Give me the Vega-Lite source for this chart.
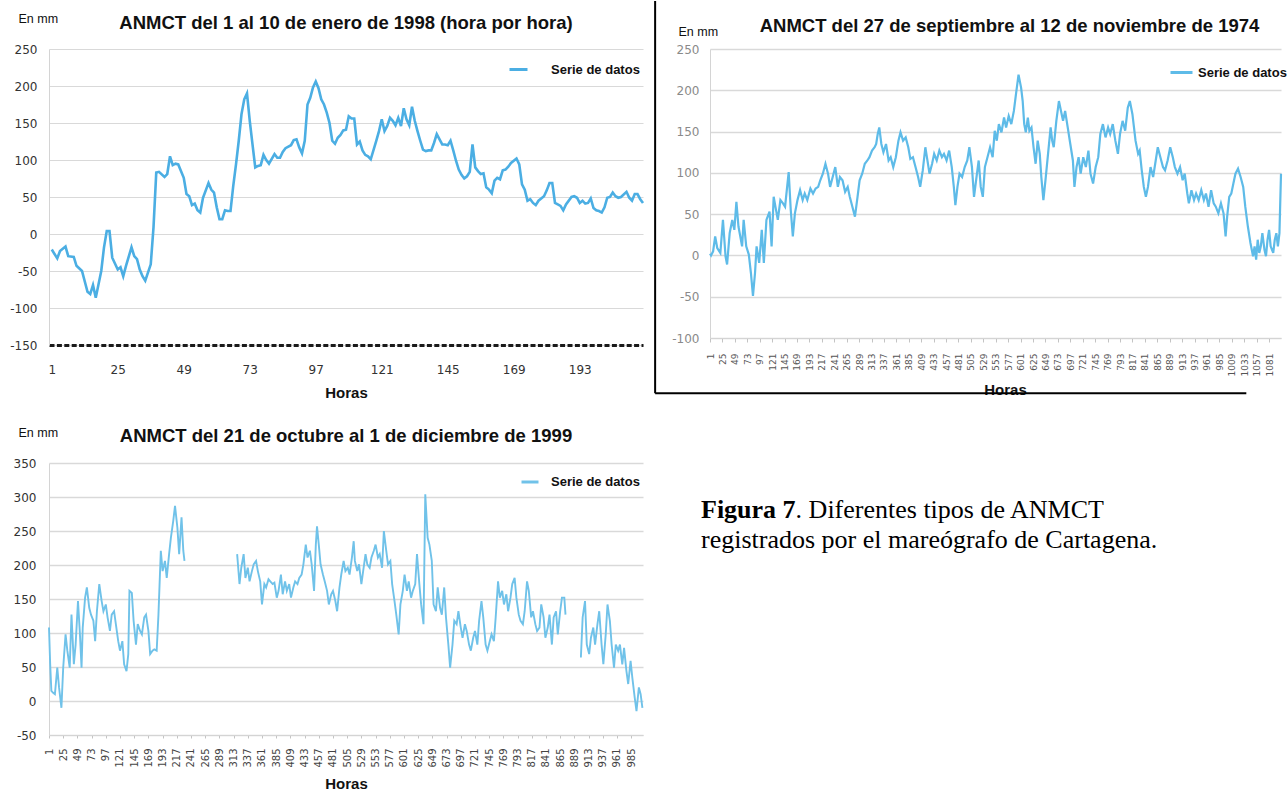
{
  "$schema": "https://vega.github.io/schema/vega-lite/v6.json",
  "background": "#ffffff",
  "padding": {"left": 9, "top": 0, "right": 0, "bottom": 0},
  "bounds": "flush",
  "columns": 2,
  "spacing": {"row": 118, "column": 67},
  "datasets": {
    "enero1998": [
      {"hora":1,"mm":-21},{"hora":3,"mm":-33},{"hora":4,"mm":-23},{"hora":6,"mm":-17},{"hora":7,"mm":-30},{"hora":9,"mm":-31},{"hora":10,"mm":-43},{"hora":12,"mm":-50},{"hora":14,"mm":-78},{"hora":15,"mm":-81},{"hora":16,"mm":-69},{"hora":17,"mm":-86},{"hora":19,"mm":-50},{"hora":20,"mm":-18},{"hora":21,"mm":4},{"hora":22,"mm":4},{"hora":23,"mm":-32},{"hora":25,"mm":-48},{"hora":26,"mm":-45},{"hora":27,"mm":-57},{"hora":28,"mm":-43},{"hora":30,"mm":-18},{"hora":31,"mm":-30},{"hora":32,"mm":-34},{"hora":33,"mm":-48},{"hora":34,"mm":-57},{"hora":35,"mm":-63},{"hora":37,"mm":-41},{"hora":38,"mm":9},{"hora":39,"mm":83},{"hora":40,"mm":84},{"hora":42,"mm":77},{"hora":43,"mm":81},{"hora":44,"mm":105},{"hora":45,"mm":93},{"hora":46,"mm":95},{"hora":47,"mm":94},{"hora":49,"mm":76},{"hora":50,"mm":54},{"hora":51,"mm":51},{"hora":52,"mm":39},{"hora":53,"mm":41},{"hora":54,"mm":32},{"hora":55,"mm":29},{"hora":56,"mm":49},{"hora":58,"mm":69},{"hora":59,"mm":60},{"hora":60,"mm":56},{"hora":61,"mm":36},{"hora":62,"mm":20},{"hora":63,"mm":20},{"hora":64,"mm":32},{"hora":65,"mm":31},{"hora":66,"mm":31},{"hora":67,"mm":65},{"hora":68,"mm":94},{"hora":69,"mm":126},{"hora":70,"mm":162},{"hora":71,"mm":182},{"hora":72,"mm":190},{"hora":73,"mm":153},{"hora":74,"mm":121},{"hora":75,"mm":90},{"hora":76,"mm":92},{"hora":77,"mm":93},{"hora":78,"mm":107},{"hora":79,"mm":100},{"hora":80,"mm":95},{"hora":82,"mm":108},{"hora":83,"mm":103},{"hora":84,"mm":103},{"hora":85,"mm":111},{"hora":86,"mm":116},{"hora":88,"mm":120},{"hora":89,"mm":127},{"hora":90,"mm":128},{"hora":91,"mm":117},{"hora":92,"mm":109},{"hora":93,"mm":126},{"hora":94,"mm":175},{"hora":95,"mm":184},{"hora":96,"mm":198},{"hora":97,"mm":206},{"hora":98,"mm":197},{"hora":99,"mm":182},{"hora":100,"mm":175},{"hora":101,"mm":164},{"hora":102,"mm":150},{"hora":103,"mm":126},{"hora":104,"mm":122},{"hora":105,"mm":130},{"hora":106,"mm":134},{"hora":107,"mm":140},{"hora":108,"mm":141},{"hora":109,"mm":159},{"hora":110,"mm":156},{"hora":111,"mm":156},{"hora":112,"mm":121},{"hora":113,"mm":125},{"hora":114,"mm":113},{"hora":115,"mm":107},{"hora":116,"mm":105},{"hora":117,"mm":101},{"hora":119,"mm":126},{"hora":120,"mm":139},{"hora":121,"mm":155},{"hora":122,"mm":139},{"hora":123,"mm":146},{"hora":124,"mm":157},{"hora":125,"mm":153},{"hora":126,"mm":147},{"hora":127,"mm":157},{"hora":128,"mm":146},{"hora":129,"mm":170},{"hora":130,"mm":155},{"hora":131,"mm":147},{"hora":132,"mm":172},{"hora":133,"mm":153},{"hora":134,"mm":139},{"hora":135,"mm":126},{"hora":136,"mm":114},{"hora":137,"mm":112},{"hora":138,"mm":113},{"hora":139,"mm":113},{"hora":140,"mm":123},{"hora":141,"mm":135},{"hora":143,"mm":121},{"hora":144,"mm":121},{"hora":145,"mm":120},{"hora":146,"mm":126},{"hora":147,"mm":113},{"hora":148,"mm":99},{"hora":149,"mm":87},{"hora":150,"mm":80},{"hora":151,"mm":75},{"hora":152,"mm":78},{"hora":153,"mm":84},{"hora":154,"mm":121},{"hora":155,"mm":90},{"hora":156,"mm":85},{"hora":157,"mm":81},{"hora":158,"mm":82},{"hora":159,"mm":63},{"hora":160,"mm":60},{"hora":161,"mm":55},{"hora":162,"mm":72},{"hora":163,"mm":76},{"hora":164,"mm":74},{"hora":165,"mm":86},{"hora":166,"mm":87},{"hora":167,"mm":91},{"hora":168,"mm":96},{"hora":170,"mm":102},{"hora":171,"mm":94},{"hora":172,"mm":67},{"hora":173,"mm":60},{"hora":174,"mm":45},{"hora":175,"mm":47},{"hora":176,"mm":42},{"hora":177,"mm":39},{"hora":178,"mm":45},{"hora":180,"mm":51},{"hora":181,"mm":59},{"hora":182,"mm":69},{"hora":183,"mm":69},{"hora":184,"mm":42},{"hora":185,"mm":40},{"hora":186,"mm":38},{"hora":187,"mm":32},{"hora":188,"mm":40},{"hora":190,"mm":50},{"hora":191,"mm":51},{"hora":192,"mm":49},{"hora":193,"mm":42},{"hora":194,"mm":45},{"hora":195,"mm":41},{"hora":196,"mm":42},{"hora":197,"mm":48},{"hora":198,"mm":35},{"hora":199,"mm":32},{"hora":200,"mm":31},{"hora":201,"mm":29},{"hora":202,"mm":36},{"hora":203,"mm":49},{"hora":204,"mm":50},{"hora":205,"mm":56},{"hora":206,"mm":51},{"hora":207,"mm":49},{"hora":208,"mm":50},{"hora":210,"mm":57},{"hora":211,"mm":49},{"hora":212,"mm":45},{"hora":213,"mm":54},{"hora":214,"mm":54},{"hora":215,"mm":47},{"hora":216,"mm":42}
    ],
    "sep1974": [
      {"hora":1,"mm":2},{"hora":3,"mm":0},{"hora":7,"mm":5},{"hora":11,"mm":23},{"hora":15,"mm":9},{"hora":21,"mm":3},{"hora":26,"mm":43},{"hora":31,"mm":-1},{"hora":34,"mm":-11},{"hora":39,"mm":27},{"hora":44,"mm":43},{"hora":48,"mm":31},{"hora":52,"mm":65},{"hora":56,"mm":35},{"hora":63,"mm":11},{"hora":66,"mm":43},{"hora":71,"mm":11},{"hora":76,"mm":1},{"hora":80,"mm":-21},{"hora":84,"mm":-49},{"hora":88,"mm":-21},{"hora":91,"mm":11},{"hora":96,"mm":-9},{"hora":101,"mm":31},{"hora":105,"mm":-9},{"hora":110,"mm":43},{"hora":116,"mm":53},{"hora":120,"mm":11},{"hora":124,"mm":71},{"hora":128,"mm":57},{"hora":132,"mm":43},{"hora":137,"mm":67},{"hora":142,"mm":63},{"hora":146,"mm":59},{"hora":153,"mm":101},{"hora":157,"mm":55},{"hora":161,"mm":23},{"hora":165,"mm":51},{"hora":170,"mm":67},{"hora":175,"mm":79},{"hora":180,"mm":67},{"hora":184,"mm":75},{"hora":189,"mm":67},{"hora":195,"mm":81},{"hora":200,"mm":75},{"hora":205,"mm":81},{"hora":210,"mm":83},{"hora":214,"mm":91},{"hora":219,"mm":99},{"hora":224,"mm":111},{"hora":229,"mm":99},{"hora":233,"mm":83},{"hora":238,"mm":95},{"hora":243,"mm":107},{"hora":248,"mm":83},{"hora":252,"mm":95},{"hora":257,"mm":91},{"hora":262,"mm":77},{"hora":267,"mm":83},{"hora":271,"mm":71},{"hora":276,"mm":59},{"hora":281,"mm":47},{"hora":286,"mm":71},{"hora":290,"mm":91},{"hora":295,"mm":99},{"hora":300,"mm":111},{"hora":305,"mm":115},{"hora":309,"mm":119},{"hora":314,"mm":127},{"hora":319,"mm":131},{"hora":322,"mm":135},{"hora":325,"mm":147},{"hora":328,"mm":155},{"hora":332,"mm":135},{"hora":336,"mm":125},{"hora":341,"mm":135},{"hora":346,"mm":115},{"hora":350,"mm":119},{"hora":355,"mm":107},{"hora":360,"mm":119},{"hora":365,"mm":139},{"hora":369,"mm":149},{"hora":374,"mm":139},{"hora":379,"mm":143},{"hora":384,"mm":131},{"hora":388,"mm":117},{"hora":393,"mm":119},{"hora":398,"mm":107},{"hora":403,"mm":95},{"hora":407,"mm":83},{"hora":412,"mm":103},{"hora":417,"mm":131},{"hora":420,"mm":119},{"hora":425,"mm":99},{"hora":430,"mm":111},{"hora":434,"mm":123},{"hora":439,"mm":115},{"hora":444,"mm":127},{"hora":449,"mm":119},{"hora":453,"mm":123},{"hora":458,"mm":115},{"hora":463,"mm":127},{"hora":468,"mm":107},{"hora":472,"mm":83},{"hora":475,"mm":61},{"hora":479,"mm":83},{"hora":483,"mm":99},{"hora":488,"mm":95},{"hora":493,"mm":107},{"hora":498,"mm":115},{"hora":502,"mm":131},{"hora":507,"mm":107},{"hora":511,"mm":71},{"hora":515,"mm":91},{"hora":520,"mm":115},{"hora":524,"mm":83},{"hora":528,"mm":71},{"hora":532,"mm":107},{"hora":537,"mm":119},{"hora":542,"mm":131},{"hora":547,"mm":119},{"hora":551,"mm":151},{"hora":555,"mm":139},{"hora":559,"mm":159},{"hora":564,"mm":149},{"hora":569,"mm":167},{"hora":573,"mm":155},{"hora":578,"mm":169},{"hora":583,"mm":159},{"hora":588,"mm":175},{"hora":592,"mm":195},{"hora":597,"mm":219},{"hora":602,"mm":203},{"hora":605,"mm":187},{"hora":608,"mm":159},{"hora":611,"mm":149},{"hora":615,"mm":167},{"hora":618,"mm":151},{"hora":622,"mm":155},{"hora":626,"mm":131},{"hora":630,"mm":111},{"hora":634,"mm":139},{"hora":638,"mm":123},{"hora":641,"mm":95},{"hora":645,"mm":67},{"hora":649,"mm":91},{"hora":654,"mm":123},{"hora":659,"mm":155},{"hora":662,"mm":139},{"hora":665,"mm":131},{"hora":670,"mm":163},{"hora":675,"mm":187},{"hora":679,"mm":175},{"hora":683,"mm":163},{"hora":687,"mm":175},{"hora":692,"mm":155},{"hora":697,"mm":135},{"hora":702,"mm":115},{"hora":705,"mm":83},{"hora":709,"mm":107},{"hora":713,"mm":119},{"hora":717,"mm":99},{"hora":722,"mm":119},{"hora":727,"mm":107},{"hora":732,"mm":127},{"hora":736,"mm":99},{"hora":741,"mm":87},{"hora":746,"mm":107},{"hora":751,"mm":119},{"hora":755,"mm":147},{"hora":760,"mm":159},{"hora":765,"mm":143},{"hora":770,"mm":155},{"hora":774,"mm":147},{"hora":779,"mm":159},{"hora":784,"mm":139},{"hora":789,"mm":123},{"hora":793,"mm":147},{"hora":798,"mm":163},{"hora":803,"mm":151},{"hora":808,"mm":179},{"hora":812,"mm":187},{"hora":817,"mm":171},{"hora":820,"mm":155},{"hora":823,"mm":139},{"hora":828,"mm":123},{"hora":831,"mm":127},{"hora":835,"mm":103},{"hora":839,"mm":83},{"hora":843,"mm":71},{"hora":847,"mm":83},{"hora":852,"mm":107},{"hora":857,"mm":95},{"hora":861,"mm":111},{"hora":866,"mm":131},{"hora":871,"mm":119},{"hora":876,"mm":107},{"hora":880,"mm":103},{"hora":885,"mm":115},{"hora":890,"mm":131},{"hora":895,"mm":119},{"hora":899,"mm":107},{"hora":904,"mm":99},{"hora":909,"mm":107},{"hora":914,"mm":91},{"hora":918,"mm":99},{"hora":923,"mm":75},{"hora":926,"mm":63},{"hora":931,"mm":79},{"hora":936,"mm":67},{"hora":940,"mm":75},{"hora":945,"mm":67},{"hora":950,"mm":79},{"hora":955,"mm":67},{"hora":959,"mm":75},{"hora":964,"mm":59},{"hora":969,"mm":79},{"hora":974,"mm":63},{"hora":978,"mm":59},{"hora":983,"mm":51},{"hora":988,"mm":63},{"hora":993,"mm":51},{"hora":997,"mm":23},{"hora":1000,"mm":47},{"hora":1004,"mm":71},{"hora":1008,"mm":75},{"hora":1012,"mm":87},{"hora":1016,"mm":99},{"hora":1021,"mm":105},{"hora":1026,"mm":95},{"hora":1031,"mm":83},{"hora":1035,"mm":59},{"hora":1040,"mm":35},{"hora":1045,"mm":15},{"hora":1050,"mm":-1},{"hora":1053,"mm":11},{"hora":1056,"mm":-5},{"hora":1059,"mm":19},{"hora":1062,"mm":3},{"hora":1065,"mm":11},{"hora":1068,"mm":27},{"hora":1072,"mm":7},{"hora":1075,"mm":-1},{"hora":1078,"mm":19},{"hora":1081,"mm":31},{"hora":1084,"mm":11},{"hora":1089,"mm":3},{"hora":1092,"mm":19},{"hora":1095,"mm":27},{"hora":1098,"mm":11},{"hora":1101,"mm":27},{"hora":1104,"mm":99}
    ],
    "oct1999": [
      {"hora":1,"mm":108,"tramo":1},{"hora":3,"mm":54,"tramo":1},{"hora":5,"mm":15,"tramo":1},{"hora":8,"mm":12,"tramo":1},{"hora":11,"mm":10,"tramo":1},{"hora":15,"mm":49,"tramo":1},{"hora":18,"mm":20,"tramo":1},{"hora":22,"mm":-10,"tramo":1},{"hora":25,"mm":49,"tramo":1},{"hora":29,"mm":98,"tramo":1},{"hora":32,"mm":74,"tramo":1},{"hora":36,"mm":49,"tramo":1},{"hora":39,"mm":127,"tramo":1},{"hora":43,"mm":54,"tramo":1},{"hora":46,"mm":83,"tramo":1},{"hora":50,"mm":147,"tramo":1},{"hora":53,"mm":103,"tramo":1},{"hora":56,"mm":49,"tramo":1},{"hora":58,"mm":108,"tramo":1},{"hora":62,"mm":152,"tramo":1},{"hora":65,"mm":167,"tramo":1},{"hora":69,"mm":137,"tramo":1},{"hora":72,"mm":127,"tramo":1},{"hora":76,"mm":118,"tramo":1},{"hora":79,"mm":88,"tramo":1},{"hora":82,"mm":132,"tramo":1},{"hora":86,"mm":172,"tramo":1},{"hora":90,"mm":147,"tramo":1},{"hora":93,"mm":132,"tramo":1},{"hora":97,"mm":142,"tramo":1},{"hora":100,"mm":123,"tramo":1},{"hora":104,"mm":103,"tramo":1},{"hora":107,"mm":127,"tramo":1},{"hora":111,"mm":132,"tramo":1},{"hora":114,"mm":113,"tramo":1},{"hora":118,"mm":88,"tramo":1},{"hora":121,"mm":74,"tramo":1},{"hora":125,"mm":88,"tramo":1},{"hora":128,"mm":54,"tramo":1},{"hora":132,"mm":44,"tramo":1},{"hora":135,"mm":69,"tramo":1},{"hora":137,"mm":162,"tramo":1},{"hora":141,"mm":159,"tramo":1},{"hora":144,"mm":118,"tramo":1},{"hora":148,"mm":83,"tramo":1},{"hora":151,"mm":113,"tramo":1},{"hora":155,"mm":103,"tramo":1},{"hora":158,"mm":98,"tramo":1},{"hora":162,"mm":123,"tramo":1},{"hora":165,"mm":127,"tramo":1},{"hora":169,"mm":103,"tramo":1},{"hora":172,"mm":69,"tramo":1},{"hora":176,"mm":74,"tramo":1},{"hora":179,"mm":76,"tramo":1},{"hora":183,"mm":74,"tramo":1},{"hora":186,"mm":127,"tramo":1},{"hora":190,"mm":221,"tramo":1},{"hora":193,"mm":191,"tramo":1},{"hora":197,"mm":206,"tramo":1},{"hora":200,"mm":181,"tramo":1},{"hora":204,"mm":216,"tramo":1},{"hora":207,"mm":240,"tramo":1},{"hora":211,"mm":265,"tramo":1},{"hora":214,"mm":287,"tramo":1},{"hora":218,"mm":255,"tramo":1},{"hora":221,"mm":216,"tramo":1},{"hora":225,"mm":270,"tramo":1},{"hora":228,"mm":221,"tramo":1},{"hora":230,"mm":206,"tramo":1},
      {"hora":319,"mm":216,"tramo":2},{"hora":323,"mm":172,"tramo":2},{"hora":326,"mm":196,"tramo":2},{"hora":330,"mm":216,"tramo":2},{"hora":333,"mm":181,"tramo":2},{"hora":337,"mm":196,"tramo":2},{"hora":340,"mm":176,"tramo":2},{"hora":344,"mm":191,"tramo":2},{"hora":347,"mm":201,"tramo":2},{"hora":351,"mm":206,"tramo":2},{"hora":354,"mm":191,"tramo":2},{"hora":358,"mm":176,"tramo":2},{"hora":361,"mm":142,"tramo":2},{"hora":365,"mm":172,"tramo":2},{"hora":368,"mm":167,"tramo":2},{"hora":372,"mm":179,"tramo":2},{"hora":375,"mm":176,"tramo":2},{"hora":379,"mm":172,"tramo":2},{"hora":382,"mm":174,"tramo":2},{"hora":386,"mm":152,"tramo":2},{"hora":389,"mm":162,"tramo":2},{"hora":393,"mm":186,"tramo":2},{"hora":396,"mm":157,"tramo":2},{"hora":400,"mm":176,"tramo":2},{"hora":403,"mm":162,"tramo":2},{"hora":407,"mm":172,"tramo":2},{"hora":410,"mm":152,"tramo":2},{"hora":414,"mm":167,"tramo":2},{"hora":417,"mm":176,"tramo":2},{"hora":421,"mm":172,"tramo":2},{"hora":424,"mm":181,"tramo":2},{"hora":428,"mm":186,"tramo":2},{"hora":431,"mm":201,"tramo":2},{"hora":435,"mm":230,"tramo":2},{"hora":438,"mm":211,"tramo":2},{"hora":442,"mm":221,"tramo":2},{"hora":445,"mm":201,"tramo":2},{"hora":449,"mm":162,"tramo":2},{"hora":452,"mm":230,"tramo":2},{"hora":454,"mm":257,"tramo":2},{"hora":457,"mm":230,"tramo":2},{"hora":460,"mm":201,"tramo":2},{"hora":464,"mm":186,"tramo":2},{"hora":467,"mm":176,"tramo":2},{"hora":471,"mm":162,"tramo":2},{"hora":474,"mm":142,"tramo":2},{"hora":478,"mm":157,"tramo":2},{"hora":481,"mm":162,"tramo":2},{"hora":485,"mm":147,"tramo":2},{"hora":488,"mm":132,"tramo":2},{"hora":492,"mm":167,"tramo":2},{"hora":495,"mm":186,"tramo":2},{"hora":499,"mm":206,"tramo":2},{"hora":502,"mm":191,"tramo":2},{"hora":506,"mm":196,"tramo":2},{"hora":509,"mm":186,"tramo":2},{"hora":513,"mm":211,"tramo":2},{"hora":516,"mm":235,"tramo":2},{"hora":518,"mm":206,"tramo":2},{"hora":522,"mm":191,"tramo":2},{"hora":525,"mm":201,"tramo":2},{"hora":529,"mm":172,"tramo":2},{"hora":532,"mm":191,"tramo":2},{"hora":536,"mm":216,"tramo":2},{"hora":539,"mm":201,"tramo":2},{"hora":543,"mm":196,"tramo":2},{"hora":546,"mm":211,"tramo":2},{"hora":550,"mm":221,"tramo":2},{"hora":553,"mm":230,"tramo":2},{"hora":557,"mm":211,"tramo":2},{"hora":560,"mm":216,"tramo":2},{"hora":564,"mm":196,"tramo":2},{"hora":567,"mm":250,"tramo":2},{"hora":571,"mm":221,"tramo":2},{"hora":574,"mm":201,"tramo":2},{"hora":578,"mm":206,"tramo":2},{"hora":581,"mm":172,"tramo":2},{"hora":585,"mm":147,"tramo":2},{"hora":588,"mm":127,"tramo":2},{"hora":592,"mm":98,"tramo":2},{"hora":595,"mm":142,"tramo":2},{"hora":599,"mm":162,"tramo":2},{"hora":602,"mm":186,"tramo":2},{"hora":606,"mm":162,"tramo":2},{"hora":609,"mm":176,"tramo":2},{"hora":613,"mm":152,"tramo":2},{"hora":616,"mm":162,"tramo":2},{"hora":620,"mm":172,"tramo":2},{"hora":623,"mm":216,"tramo":2},{"hora":627,"mm":172,"tramo":2},{"hora":630,"mm":142,"tramo":2},{"hora":634,"mm":113,"tramo":2},{"hora":637,"mm":304,"tramo":2},{"hora":641,"mm":240,"tramo":2},{"hora":644,"mm":230,"tramo":2},{"hora":648,"mm":206,"tramo":2},{"hora":651,"mm":142,"tramo":2},{"hora":655,"mm":132,"tramo":2},{"hora":658,"mm":167,"tramo":2},{"hora":662,"mm":137,"tramo":2},{"hora":665,"mm":127,"tramo":2},{"hora":669,"mm":167,"tramo":2},{"hora":672,"mm":123,"tramo":2},{"hora":676,"mm":83,"tramo":2},{"hora":679,"mm":49,"tramo":2},{"hora":683,"mm":83,"tramo":2},{"hora":686,"mm":118,"tramo":2},{"hora":690,"mm":113,"tramo":2},{"hora":693,"mm":132,"tramo":2},{"hora":697,"mm":108,"tramo":2},{"hora":700,"mm":93,"tramo":2},{"hora":704,"mm":113,"tramo":2},{"hora":707,"mm":103,"tramo":2},{"hora":711,"mm":83,"tramo":2},{"hora":714,"mm":74,"tramo":2},{"hora":718,"mm":93,"tramo":2},{"hora":721,"mm":103,"tramo":2},{"hora":725,"mm":83,"tramo":2},{"hora":728,"mm":118,"tramo":2},{"hora":732,"mm":147,"tramo":2},{"hora":735,"mm":123,"tramo":2},{"hora":739,"mm":83,"tramo":2},{"hora":742,"mm":74,"tramo":2},{"hora":746,"mm":88,"tramo":2},{"hora":749,"mm":98,"tramo":2},{"hora":753,"mm":88,"tramo":2},{"hora":756,"mm":123,"tramo":2},{"hora":760,"mm":176,"tramo":2},{"hora":763,"mm":152,"tramo":2},{"hora":767,"mm":162,"tramo":2},{"hora":770,"mm":142,"tramo":2},{"hora":774,"mm":157,"tramo":2},{"hora":777,"mm":132,"tramo":2},{"hora":781,"mm":152,"tramo":2},{"hora":784,"mm":172,"tramo":2},{"hora":788,"mm":181,"tramo":2},{"hora":791,"mm":152,"tramo":2},{"hora":795,"mm":127,"tramo":2},{"hora":798,"mm":118,"tramo":2},{"hora":802,"mm":113,"tramo":2},{"hora":805,"mm":132,"tramo":2},{"hora":809,"mm":176,"tramo":2},{"hora":812,"mm":162,"tramo":2},{"hora":816,"mm":123,"tramo":2},{"hora":819,"mm":132,"tramo":2},{"hora":823,"mm":113,"tramo":2},{"hora":826,"mm":103,"tramo":2},{"hora":830,"mm":108,"tramo":2},{"hora":833,"mm":142,"tramo":2},{"hora":837,"mm":123,"tramo":2},{"hora":840,"mm":93,"tramo":2},{"hora":844,"mm":108,"tramo":2},{"hora":847,"mm":127,"tramo":2},{"hora":851,"mm":83,"tramo":2},{"hora":854,"mm":123,"tramo":2},{"hora":858,"mm":132,"tramo":2},{"hora":861,"mm":98,"tramo":2},{"hora":865,"mm":132,"tramo":2},{"hora":868,"mm":152,"tramo":2},{"hora":872,"mm":152,"tramo":2},{"hora":874,"mm":127,"tramo":2},
      {"hora":900,"mm":64,"tramo":3},{"hora":903,"mm":123,"tramo":3},{"hora":907,"mm":147,"tramo":3},{"hora":910,"mm":83,"tramo":3},{"hora":914,"mm":69,"tramo":3},{"hora":917,"mm":93,"tramo":3},{"hora":921,"mm":108,"tramo":3},{"hora":924,"mm":83,"tramo":3},{"hora":928,"mm":113,"tramo":3},{"hora":931,"mm":132,"tramo":3},{"hora":935,"mm":83,"tramo":3},{"hora":938,"mm":54,"tramo":3},{"hora":942,"mm":98,"tramo":3},{"hora":945,"mm":142,"tramo":3},{"hora":949,"mm":118,"tramo":3},{"hora":952,"mm":83,"tramo":3},{"hora":956,"mm":49,"tramo":3},{"hora":959,"mm":83,"tramo":3},{"hora":963,"mm":74,"tramo":3},{"hora":966,"mm":83,"tramo":3},{"hora":970,"mm":54,"tramo":3},{"hora":973,"mm":78,"tramo":3},{"hora":977,"mm":44,"tramo":3},{"hora":980,"mm":25,"tramo":3},{"hora":984,"mm":59,"tramo":3},{"hora":987,"mm":34,"tramo":3},{"hora":991,"mm":5,"tramo":3},{"hora":994,"mm":-15,"tramo":3},{"hora":998,"mm":20,"tramo":3},{"hora":1001,"mm":10,"tramo":3},{"hora":1004,"mm":-10,"tramo":3}
    ],
    "pie": [
      {"parte": "figura", "texto": "Figura 7"},
      {"parte": "resto", "texto": ". Diferentes tipos de ANMCT"},
      {"parte": "linea2", "texto": "registrados por el mareógrafo de Cartagena."}
    ]
  },
  "concat": [
    {
      "width": 594,
      "height": 296,
      "title": {"text": "ANMCT del 1 al 10 de enero de 1998 (hora por hora)", "frame": "group", "anchor": "middle", "baseline": "alphabetic", "offset": -35},
      "data": {"name": "enero1998"},
      "mark": {"type": "line", "strokeWidth": 2.6, "interpolate": "linear"},
      "encoding": {
        "x": {
          "field": "hora", "type": "quantitative",
          "scale": {"domain": [0, 216], "nice": false, "zero": false},
          "axis": {
            "values": [1, 25, 49, 73, 97, 121, 145, 169, 193],
            "format": "d",
            "title": "Horas", "grid": false, "ticks": false,
            "domainColor": "#1a1a1a", "domainWidth": 3, "domainDash": [5, 2.4],
            "labelFontSize": 12, "labelColor": "#333333", "labelPadding": 19,
            "titleFontSize": 15, "titleFontWeight": "bold", "titlePadding": 10
          }
        },
        "y": {
          "field": "mm", "type": "quantitative",
          "scale": {"domain": [-150, 250], "nice": false, "zero": false},
          "axis": {
            "values": [-150, -100, -50, 0, 50, 100, 150, 200, 250],
            "labelExpr": "replace(datum.label, '−', '-')",
            "grid": true, "ticks": false, "labelPadding": 12,
            "labelFontSize": 12, "labelColor": "#333333",
            "title": "En mm", "titleAngle": 0, "titleAlign": "left", "titleBaseline": "middle",
            "titleX": -31, "titleY": -31, "titleFontSize": 12.5, "titleFontWeight": "normal"
          }
        },
        "color": {
          "datum": "Serie de datos", "type": "nominal",
          "scale": {"range": ["#4baee3"]},
          "legend": {"title": null, "orient": "none", "legendX": 459, "legendY": 10, "symbolSize": 324, "labelOffset": 22}
        }
      }
    },
    {
      "width": 571,
      "height": 289,
      "title": {"text": "ANMCT del 27 de septiembre al 12 de noviembre de 1974", "frame": "group", "anchor": "middle", "baseline": "alphabetic", "offset": -50, "dx": 14},
      "layer": [
        {
          "data": {"name": "sep1974"},
          "mark": {"type": "line", "strokeWidth": 2.2, "interpolate": "linear"},
          "encoding": {
            "x": {
              "field": "hora", "type": "quantitative",
              "scale": {"domain": [1, 1104], "nice": false, "zero": false},
              "axis": {
                "values": [1, 25, 49, 73, 97, 121, 145, 169, 193, 217, 241, 265, 289, 313, 337, 361, 385, 409, 433, 457, 481, 505, 529, 553, 577, 601, 625, 649, 673, 697, 721, 745, 769, 793, 817, 841, 865, 889, 913, 937, 961, 985, 1009, 1033, 1057, 1081],
                "format": "d", "labelOverlap": false,
                "title": "Horas", "grid": false, "ticks": true, "tickSize": 4,
                "labelAngle": -90, "labelFontSize": 9, "labelColor": "#555555", "labelPadding": 11,
                "titleFontSize": 15, "titleFontWeight": "bold", "titlePadding": 7, "titleX": 295
              }
            },
            "y": {
              "field": "mm", "type": "quantitative",
              "scale": {"domain": [-100, 250], "nice": false, "zero": false},
              "axis": {
                "values": [-100, -50, 0, 50, 100, 150, 200, 250],
                "labelExpr": "replace(datum.label, '−', '-')",
                "grid": true, "gridWidth": 1.6, "ticks": false, "labelPadding": 11,
                "labelFontSize": 12, "labelColor": "#8a8a8a",
                "title": "En mm", "titleAngle": 0, "titleAlign": "left", "titleBaseline": "middle",
                "titleX": -32, "titleY": -18, "titleFontSize": 12.5, "titleFontWeight": "normal"
              }
            },
            "color": {
              "datum": "Serie de datos", "type": "nominal",
              "scale": {"range": ["#5ebbe8"]},
              "legend": {"title": null, "orient": "none", "legendX": 459, "legendY": 11, "symbolSize": 484, "labelOffset": 4}
            }
          }
        },
        {
          "data": {"values": [{"marco": "izquierdo"}]},
          "mark": {"type": "rule", "color": "#000000", "strokeWidth": 2},
          "encoding": {
            "x": {
              "datum": -105, "type": "quantitative",
              "axis": {
                "values": [1, 25, 49, 73, 97, 121, 145, 169, 193, 217, 241, 265, 289, 313, 337, 361, 385, 409, 433, 457, 481, 505, 529, 553, 577, 601, 625, 649, 673, 697, 721, 745, 769, 793, 817, 841, 865, 889, 913, 937, 961, 985, 1009, 1033, 1057, 1081],
                "format": "d", "labelOverlap": false,
                "title": "Horas", "grid": false, "ticks": true, "tickSize": 4,
                "labelAngle": -90, "labelFontSize": 9, "labelColor": "#555555", "labelPadding": 11,
                "titleFontSize": 15, "titleFontWeight": "bold", "titlePadding": 7, "titleX": 295
              }
            },
            "y": {
              "datum": 308, "type": "quantitative",
              "axis": {
                "values": [-100, -50, 0, 50, 100, 150, 200, 250],
                "labelExpr": "replace(datum.label, '−', '-')",
                "grid": true, "gridWidth": 1.6, "ticks": false, "labelPadding": 11,
                "labelFontSize": 12, "labelColor": "#8a8a8a",
                "title": "En mm", "titleAngle": 0, "titleAlign": "left", "titleBaseline": "middle",
                "titleX": -32, "titleY": -18, "titleFontSize": 12.5, "titleFontWeight": "normal"
              }
            },
            "y2": {"datum": -167}
          }
        },
        {
          "data": {"values": [{"marco": "inferior"}]},
          "mark": {"type": "rule", "color": "#000000", "strokeWidth": 2},
          "encoding": {
            "x": {
              "datum": -105, "type": "quantitative",
              "axis": {
                "values": [1, 25, 49, 73, 97, 121, 145, 169, 193, 217, 241, 265, 289, 313, 337, 361, 385, 409, 433, 457, 481, 505, 529, 553, 577, 601, 625, 649, 673, 697, 721, 745, 769, 793, 817, 841, 865, 889, 913, 937, 961, 985, 1009, 1033, 1057, 1081],
                "format": "d", "labelOverlap": false,
                "title": "Horas", "grid": false, "ticks": true, "tickSize": 4,
                "labelAngle": -90, "labelFontSize": 9, "labelColor": "#555555", "labelPadding": 11,
                "titleFontSize": 15, "titleFontWeight": "bold", "titlePadding": 7, "titleX": 295
              }
            },
            "x2": {"datum": 1037},
            "y": {
              "datum": -167, "type": "quantitative",
              "axis": {
                "values": [-100, -50, 0, 50, 100, 150, 200, 250],
                "labelExpr": "replace(datum.label, '−', '-')",
                "grid": true, "gridWidth": 1.6, "ticks": false, "labelPadding": 11,
                "labelFontSize": 12, "labelColor": "#8a8a8a",
                "title": "En mm", "titleAngle": 0, "titleAlign": "left", "titleBaseline": "middle",
                "titleX": -32, "titleY": -18, "titleFontSize": 12.5, "titleFontWeight": "normal"
              }
            }
          }
        }
      ]
    },
    {
      "width": 594,
      "height": 272,
      "title": {"text": "ANMCT del 21 de octubre al 1 de diciembre de 1999", "frame": "group", "anchor": "middle", "baseline": "alphabetic", "offset": -34},
      "data": {"name": "oct1999"},
      "mark": {"type": "line", "strokeWidth": 1.9, "interpolate": "linear"},
      "encoding": {
        "x": {
          "field": "hora", "type": "quantitative",
          "scale": {"domain": [1, 1005], "nice": false, "zero": false},
          "axis": {
            "values": [1, 25, 49, 73, 97, 121, 145, 169, 193, 217, 241, 265, 289, 313, 337, 361, 385, 409, 433, 457, 481, 505, 529, 553, 577, 601, 625, 649, 673, 697, 721, 745, 769, 793, 817, 841, 865, 889, 913, 937, 961, 985],
            "format": "d", "labelOverlap": false,
            "title": "Horas", "grid": false, "ticks": true, "tickSize": 3,
            "labelAngle": -90, "labelFontSize": 10, "labelColor": "#444444", "labelPadding": 10,
            "titleFontSize": 15, "titleFontWeight": "bold", "titlePadding": 9
          }
        },
        "y": {
          "field": "mm", "type": "quantitative",
          "scale": {"domain": [-50, 350], "nice": false, "zero": false},
          "axis": {
            "values": [-50, 0, 50, 100, 150, 200, 250, 300, 350],
            "labelExpr": "replace(datum.label, '−', '-')",
            "grid": true, "gridWidth": 1.4, "ticks": false, "labelPadding": 13,
            "labelFontSize": 12, "labelColor": "#333333",
            "title": "En mm", "titleAngle": 0, "titleAlign": "left", "titleBaseline": "middle",
            "titleX": -31, "titleY": -31, "titleFontSize": 12.5, "titleFontWeight": "normal"
          }
        },
        "detail": {"field": "tramo", "type": "nominal"},
        "color": {
          "datum": "Serie de datos", "type": "nominal",
          "scale": {"range": ["#70c2e9"]},
          "legend": {"title": null, "orient": "none", "legendX": 471, "legendY": 9, "symbolSize": 289, "labelOffset": 11}
        }
      }
    },
    {
      "width": 2,
      "height": 110,
      "data": {"name": "pie"},
      "layer": [
        {
          "transform": [{"filter": "datum.parte === 'figura'"}],
          "mark": {"type": "text", "align": "left", "baseline": "alphabetic", "font": "Liberation Serif", "fontSize": 26, "fontWeight": "bold", "color": "#000000", "dx": -10},
          "encoding": {"text": {"field": "texto", "type": "nominal"}}
        },
        {
          "transform": [{"filter": "datum.parte === 'resto'"}],
          "mark": {"type": "text", "align": "left", "baseline": "alphabetic", "font": "Liberation Serif", "fontSize": 26, "fontWeight": "normal", "color": "#000000", "dx": 84.6},
          "encoding": {"text": {"field": "texto", "type": "nominal"}}
        },
        {
          "transform": [{"filter": "datum.parte === 'linea2'"}],
          "mark": {"type": "text", "align": "left", "baseline": "alphabetic", "font": "Liberation Serif", "fontSize": 26, "fontWeight": "normal", "color": "#000000", "dx": -10, "dy": 30},
          "encoding": {"text": {"field": "texto", "type": "nominal"}}
        }
      ]
    }
  ],
  "resolve": {"scale": {"color": "independent"}, "legend": {"color": "independent"}},
  "config": {
    "view": {"stroke": null},
    "font": "Liberation Sans",
    "title": {"font": "Liberation Sans", "fontSize": 18.5, "fontWeight": "bold", "color": "#111111"},
    "axis": {
      "labelFont": "DejaVu Sans", "titleFont": "Liberation Sans", "titleColor": "#111111",
      "labelOverlap": false, "labelFlush": false, "labelBound": false,
      "gridColor": "#d9d9d9", "domainColor": "#d4d4d4", "tickColor": "#c4c4c4"
    },
    "legend": {
      "labelFont": "Liberation Sans", "labelFontWeight": "bold", "labelFontSize": 13,
      "labelColor": "#111111", "padding": 0, "symbolStrokeWidth": 3, "symbolType": "stroke"
    }
  }
}
